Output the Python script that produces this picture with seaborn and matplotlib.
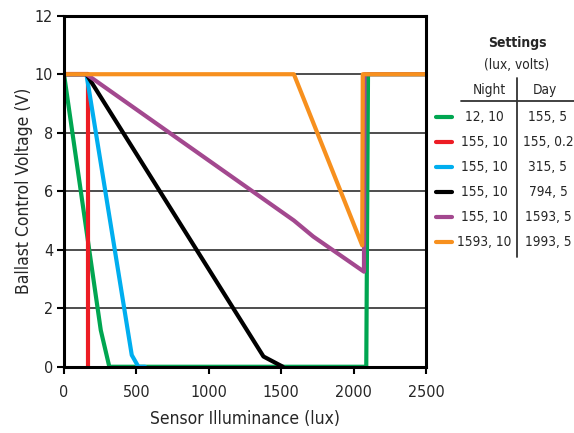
import matplotlib
matplotlib.use("Agg")
import matplotlib.pyplot as plt
from matplotlib.lines import Line2D
import seaborn as sns

# series data (lux, volts)
green_x = [0, 254, 313, 2088, 2100, 2500]
green_y = [10, 1.25, 0, 0, 10, 10]
red_x = [0, 165, 165]
red_y = [10, 10, 0]
blue_x = [0, 155, 468, 514, 560]
blue_y = [10, 10, 0.4, 0, 0]
black_x = [0, 155, 1378, 1512]
black_y = [10, 10, 0.35, 0]
purple_x = [0, 155, 1588, 1722, 2072, 2076, 2500]
purple_y = [10, 10, 5.0, 4.45, 3.25, 10, 10]
orange_x = [0, 1588, 2060, 2064, 2500]
orange_y = [10, 10, 4.15, 10, 10]

night = ["12, 10", "155, 10", "155, 10", "155, 10", "155, 10", "1593, 10"]
day = ["155, 5", "155, 0.2", "315, 5", "794, 5", "1593, 5", "1993, 5"]
colors = ["#00a651", "#ed1c24", "#00aeef", "#000000", "#a3488f", "#f7901e"]

sns.set_style("white")
plt.rcParams['font.family'] = ['DejaVu Sans']
plt.rcParams['font.stretch'] = 'condensed'

fig = plt.figure(figsize=(5.74, 4.33), dpi=100)
ax = fig.add_axes([0.1115, 0.153, 0.6305, 0.8107])

series = [(green_x, green_y), (red_x, red_y), (blue_x, blue_y),
          (black_x, black_y), (purple_x, purple_y), (orange_x, orange_y)]
for (xs, ys), c in zip(series, colors):
    sns.lineplot(x=xs, y=ys, color=c, lw=3, sort=False, estimator=None, ax=ax)

ax.set_xlim(0, 2500)
ax.set_ylim(0, 12)
ax.set_xticks(range(0, 2501, 500))
ax.set_yticks(range(0, 13, 2))
ax.yaxis.grid(True, color="#4d4d4d", lw=1.4)
ax.set_axisbelow(True)
for s in ax.spines.values():
    s.set_color("black")
    s.set_linewidth(2.2)
ax.tick_params(axis="both", direction="out", length=5, width=1.5, color="black",
               labelsize=11.5, bottom=True, left=True)
ax.tick_params(axis="x", pad=8)
ax.tick_params(axis="y", pad=3)
ax.set_xlabel("Sensor Illuminance (lux)", fontsize=12.5, labelpad=7)
ax.set_ylabel("Ballast Control Voltage (V)", fontsize=12.5, labelpad=1)

# settings table on the right
def fx(px):
    return px / 574

def fy(py):
    return 1 - py / 433

fs = 9.8
fig.text(fx(517), fy(43), "Settings", ha="center", va="center", fontsize=10, fontweight="bold")
fig.text(fx(517), fy(65), "(lux, volts)", ha="center", va="center", fontsize=fs)
fig.text(fx(489), fy(90), "Night", ha="center", va="center", fontsize=fs)
fig.text(fx(545), fy(90), "Day", ha="center", va="center", fontsize=fs)
fig.add_artist(Line2D([fx(461), fx(574)], [fy(101), fy(101)], color="#333333", lw=1.3))
fig.add_artist(Line2D([fx(517), fx(517)], [fy(78), fy(257)], color="#333333", lw=1.3))
for i, (n, d, c) in enumerate(zip(night, day, colors)):
    yy = fy(117 + 25 * i)
    fig.add_artist(Line2D([fx(436), fx(452)], [yy, yy], color=c, lw=3))
    fig.text(fx(484), yy, n, ha="center", va="center", fontsize=fs)
    fig.text(fx(548), yy, d, ha="center", va="center", fontsize=fs)

fig.savefig("out.png", dpi=100)
